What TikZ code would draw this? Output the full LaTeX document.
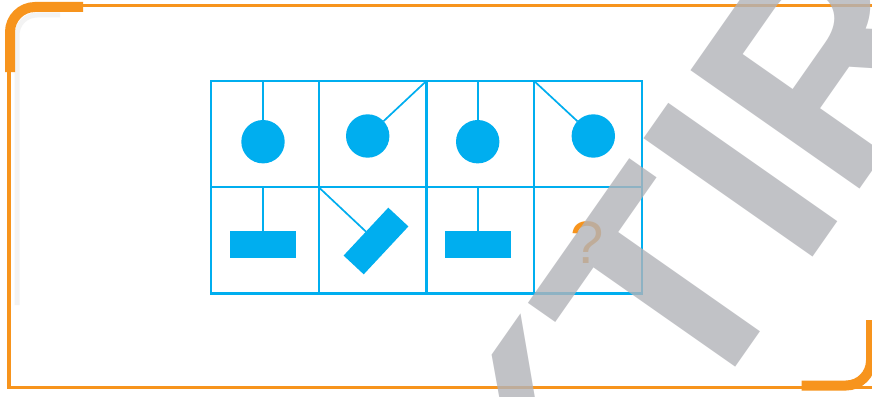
\documentclass[tikz,border=0pt]{standalone}
\usepackage{fontspec}
\newfontfamily\wmfont{Liberation Sans}
\newfontfamily\qfont{Liberation Sans}
\definecolor{cyanline}{HTML}{00AEEF}
\definecolor{frameorange}{HTML}{F7941D}
\definecolor{wmgray}{RGB}{178,179,184}
\definecolor{shadowgray}{RGB}{243,243,243}
\tikzset{
  cell/.style={draw=cyanline, line width=2.2pt, minimum width=107.7pt, minimum height=106.2pt, inner sep=0pt, outer sep=0pt},
  ball/.style={circle, fill=cyanline, minimum size=43.4pt, inner sep=0pt, outer sep=0pt},
  bar/.style={rectangle, fill=cyanline, minimum width=65.5pt, minimum height=27.5pt, inner sep=0pt, outer sep=0pt},
  link/.style={draw=cyanline, line width=1.7pt},
  thinframe/.style={draw=frameorange, line width=3.5pt},
  thickframe/.style={draw=frameorange, line width=10pt, rounded corners=25pt},
}
\begin{document}
\begin{tikzpicture}[x=1pt,y=-1pt]
\useasboundingbox (0,0) rectangle (872,396);
\clip (0,0) rectangle (872,396);
\fill[white] (0,0) rectangle (872,396);
% shadow
\draw[shadowgray, line width=5pt, rounded corners=20pt] (17,305) -- (17,15) -- (60,15);
% frame
\draw[thinframe] (9.2,60) -- (9.2,387.5) -- (880,387.5);
\draw[thinframe] (60,5.3) -- (880,5.3);
\draw[thinframe] (873.5,0) -- (873.5,330);
\draw[thickframe] (10,72) -- (10,7) -- (83,7);
\draw[thickframe] (801.7,385.5) -- (871,385.5) -- (871,320);
% grid cells
\node[cell] (c11) at (264.85,134.1) {};
\node[cell] (c12) at (372.55,134.1) {};
\node[cell] (c13) at (480.25,134.1) {};
\node[cell] (c14) at (587.95,134.1) {};
\node[cell] (c21) at (264.85,240.3) {};
\node[cell] (c22) at (372.55,240.3) {};
\node[cell] (c23) at (480.25,240.3) {};
\node[cell] (c24) at (587.95,240.3) {};
% top row
\node[ball] (k1) at (263,141.7) {};
\node[ball] (k2) at (367.7,136) {};
\node[ball] (k3) at (477.7,141.7) {};
\node[ball] (k4) at (593.3,136) {};
\draw[link] (k1) -- (k1 |- c11.north);
\draw[link] (c12.north east) -- (k2);
\draw[link] (k3) -- (k3 |- c13.north);
\draw[link] (c14.north west) -- (k4);
% bottom row
\node[bar] (r1) at (263,244.7) {};
\node[bar, rotate=47] (r2) at (376,241) {};
\node[bar] (r3) at (477.8,244.7) {};
\draw[link] (r1.north) -- (r1 |- c21.north);
\draw[link] (c22.north west) -- (r2.north);
\draw[link] (r3.north) -- (r3 |- c23.north);
\node[text=frameorange, inner sep=0pt] (q) at (586.7,242.5) {\qfont\fontsize{60}{60}\selectfont ?};
% watermark
\node[rotate=55, anchor=base west, inner sep=0pt, outer sep=0pt, text=wmgray, opacity=0.8] (wm) at (696,424)
  {\wmfont\bfseries\fontsize{300}{300}\selectfont\makebox[0pt][r]{K}TIR};
\end{tikzpicture}
\end{document}
